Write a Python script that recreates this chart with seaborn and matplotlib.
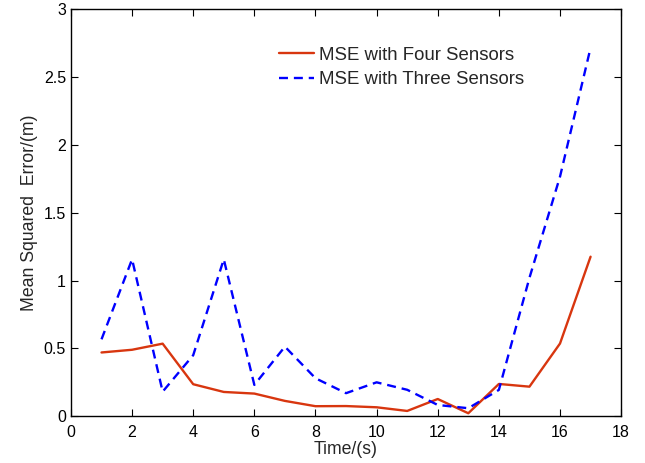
import matplotlib
matplotlib.use("Agg")
import matplotlib.pyplot as plt
import seaborn as sns
import pandas as pd

time_s = [1, 2, 3, 4, 5, 6, 7, 8, 9, 10, 11, 12, 13, 14, 15, 16, 17]
mse_four = [0.47, 0.49, 0.535, 0.236, 0.179, 0.167, 0.113, 0.074, 0.075, 0.066,
            0.039, 0.127, 0.022, 0.238, 0.218, 0.536, 1.176]
mse_three = [0.567, 1.157, 0.181, 0.45, 1.157, 0.231, 0.513, 0.28, 0.17, 0.25,
             0.195, 0.083, 0.059, 0.194, 1.02, 1.766, 2.716]
series_names = ["MSE with Four Sensors", "MSE with Three Sensors"]

df = pd.DataFrame({
    "Time": time_s * 2,
    "MSE": mse_four + mse_three,
    "Series": [series_names[0]] * len(time_s) + [series_names[1]] * len(time_s),
})

sns.set_style("ticks")
plt.rcParams["font.family"] = ["Liberation Sans", "DejaVu Sans"]
plt.rcParams["xtick.direction"] = "in"
plt.rcParams["ytick.direction"] = "in"

fig = plt.figure(figsize=(6.45, 4.63), dpi=100)
ax = fig.add_axes([0.110, 0.101, 0.853, 0.879])

palette = {series_names[0]: "#d8360f", series_names[1]: "#0000ff"}
dashes = {series_names[0]: "", series_names[1]: (3.8, 2.5)}
sns.lineplot(data=df, x="Time", y="MSE", hue="Series", style="Series",
             palette=palette, dashes=dashes, linewidth=1.7, ax=ax, legend=True)

ax.set_xlim(0, 18)
ax.set_ylim(0, 3)
ax.set_xticks(range(0, 19, 2))
ax.set_yticks([0, 0.5, 1, 1.5, 2, 2.5, 3])
ax.set_yticklabels(["0", "0.5", "1", "1.5", "2", "2.5", "3"])
ax.tick_params(axis="both", which="both", direction="in", length=5, width=0.8,
               top=True, right=True, labelsize=11.5, colors="black")
ax.tick_params(axis="x", pad=6)
ax.tick_params(axis="y", pad=3.5)
for sp in ax.spines.values():
    sp.set_visible(True)
    sp.set_color("black")
    sp.set_linewidth(1.0)

ax.set_xlabel("Time/(s)", fontsize=12.7, labelpad=1)
ax.set_ylabel("Mean Squared  Error/(m)", fontsize=12.7, labelpad=4)

leg = ax.legend(loc="upper left", bbox_to_anchor=(0.378, 0.908), frameon=False,
                fontsize=13.4, handlelength=1.9, handletextpad=0.27,
                labelspacing=0.41, borderaxespad=0, borderpad=0)

fig.savefig("out.png", dpi=100)
